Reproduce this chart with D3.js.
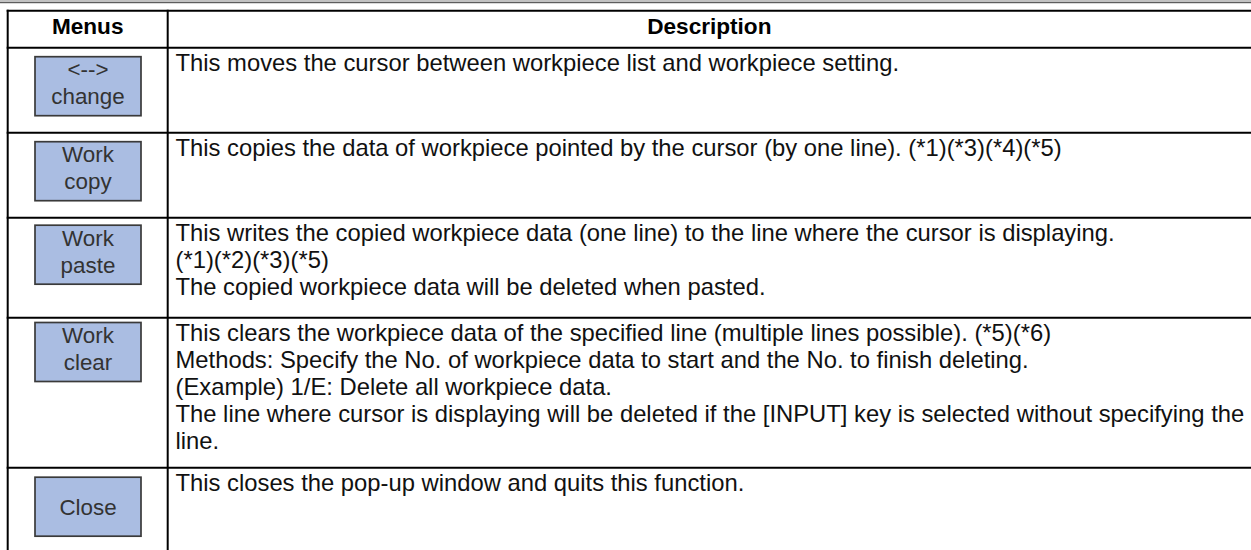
<!DOCTYPE html>
<html>
<head>
<meta charset="utf-8">
<script src="https://cdn.jsdelivr.net/npm/d3@7"></script>
<style>
  html, body { margin: 0; padding: 0; background: #fff; }
  svg { display: block; }
</style>
</head>
<body>
<svg id="chart" width="1251" height="550"></svg>
<script>
// ---- data ----
const headers = ["Menus", "Description"];
const menuLabels = [
  ["<-->", "change"],
  ["Work", "copy"],
  ["Work", "paste"],
  ["Work", "clear"],
  ["Close"]
];
const descriptions = [
  ["This moves the cursor between workpiece list and workpiece setting."],
  ["This copies the data of workpiece pointed by the cursor (by one line). (*1)(*3)(*4)(*5)"],
  ["This writes the copied workpiece data (one line) to the line where the cursor is displaying.",
   "(*1)(*2)(*3)(*5)",
   "The copied workpiece data will be deleted when pasted."],
  ["This clears the workpiece data of the specified line (multiple lines possible). (*5)(*6)",
   "Methods: Specify the No. of workpiece data to start and the No. to finish deleting.",
   "(Example) 1/E: Delete all workpiece data.",
   "The line where cursor is displaying will be deleted if the [INPUT] key is selected without specifying the",
   "line."],
  ["This closes the pop-up window and quits this function."]
];

// ---- layout ----
const W = 1251, H = 550;
const tableTop = 10.75, headerBottom = 47.7;
const rowHeights = [85, 85, 100, 150, 100];
const btnOffsets = [9, 9, 7.5, 4.8, 9.5];
const leftX = 7.7, divX = 167.7;
const lineH = 27;

const svg = d3.select("#chart");
const font = "'Liberation Sans', Arial, Helvetica, sans-serif";

// top grey band
svg.append("rect").attr("x", 0).attr("y", 0).attr("width", W).attr("height", 2.2).attr("fill", "#c2c2c2");
svg.append("line").attr("x1", 0).attr("x2", W).attr("y1", 2.7).attr("y2", 2.7)
  .attr("stroke", "#3a3a3a").attr("stroke-width", 1);

// row positions via cumulative sums
const rowTops = [headerBottom];
rowHeights.forEach((h, i) => rowTops.push(rowTops[i] + h));
const rows = d3.range(menuLabels.length);

// horizontal rules
const hLines = [tableTop, headerBottom].concat(rowTops.slice(1, rows.length));
svg.selectAll("line.h").data(hLines).join("line")
  .attr("class", "h")
  .attr("x1", leftX - 1).attr("x2", W)
  .attr("y1", d => d).attr("y2", d => d)
  .attr("stroke", "#000").attr("stroke-width", 2);

// vertical rules
[leftX, divX].forEach(x => {
  svg.append("line").attr("x1", x).attr("x2", x)
    .attr("y1", tableTop - 1).attr("y2", H)
    .attr("stroke", "#000").attr("stroke-width", 2);
});

// header
const colCenters = [(leftX + divX) / 2, (divX + W) / 2];
svg.selectAll("text.hdr").data(headers).join("text")
  .attr("class", "hdr")
  .attr("x", (d, i) => colCenters[i])
  .attr("y", 33.8)
  .attr("text-anchor", "middle")
  .attr("font-family", font).attr("font-weight", "bold").attr("font-size", 22.6)
  .attr("fill", "#000")
  .text(d => d);

// buttons
const btnX = 35, btnW = 106, btnH = 59;
const btn = svg.selectAll("g.btn").data(rows).join("g").attr("class", "btn");
btn.append("rect")
  .attr("x", btnX)
  .attr("y", i => rowTops[i] + btnOffsets[i])
  .attr("width", btnW).attr("height", btnH)
  .attr("fill", "#aabde2").attr("stroke", "#3a3a3a").attr("stroke-width", 1.7);
btn.each(function(i) {
  const g = d3.select(this);
  const top = rowTops[i] + btnOffsets[i];
  const labels = menuLabels[i];
  const cx = btnX + btnW / 2;
  labels.forEach((t, k) => {
    const y = labels.length === 1 ? top + btnH / 2 + 8 : top + 20.5 + k * 27;
    g.append("text")
      .attr("x", cx).attr("y", y)
      .attr("text-anchor", "middle")
      .attr("font-family", font).attr("font-size", 22.4)
      .attr("fill", "#333")
      .text(t);
  });
});

// descriptions
const desc = svg.selectAll("g.desc").data(rows).join("g").attr("class", "desc");
desc.each(function(i) {
  const g = d3.select(this);
  descriptions[i].forEach((t, k) => {
    g.append("text")
      .attr("x", 175.5)
      .attr("y", rowTops[i] + 23.5 + k * lineH)
      .attr("font-family", font).attr("font-size", 23.8)
      .attr("fill", "#111")
      .text(t);
  });
});
</script>
</body>
</html>
